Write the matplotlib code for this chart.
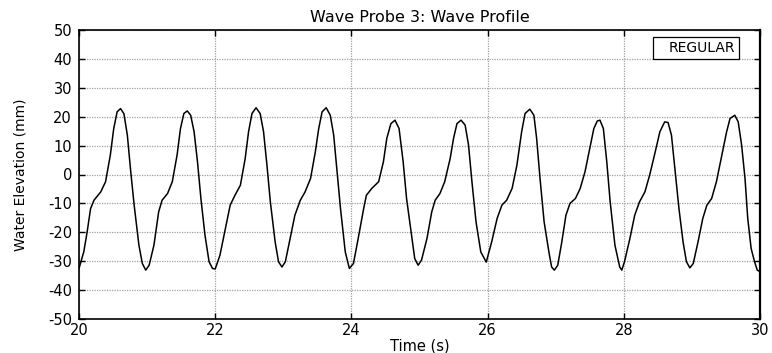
import matplotlib
matplotlib.use("Agg")
import matplotlib.pyplot as plt
from matplotlib.lines import Line2D

# ---- data ----
time_s = [
    20.00, 20.07, 20.12, 20.17, 20.22, 20.32, 20.39, 20.46, 20.51, 20.56, 20.61, 20.66, 20.71, 20.76, 20.81, 20.88, 20.93, 20.98,
    21.03, 21.10, 21.17, 21.22, 21.30, 21.37, 21.44, 21.49, 21.54, 21.59, 21.64, 21.69, 21.74, 21.79, 21.85, 21.91, 21.96,
    22.00, 22.07, 22.15, 22.22, 22.29, 22.37, 22.44, 22.49, 22.54, 22.60, 22.66, 22.71, 22.76, 22.81, 22.88, 22.93, 22.98,
    23.03, 23.10, 23.17, 23.25, 23.32, 23.40, 23.47, 23.52, 23.57, 23.63, 23.69, 23.74, 23.79, 23.84, 23.91, 23.97,
    24.03, 24.10, 24.18, 24.22, 24.30, 24.40, 24.47, 24.52, 24.58, 24.64, 24.70, 24.76, 24.81, 24.89, 24.93, 24.98,
    25.03, 25.11, 25.18, 25.23, 25.30, 25.37, 25.45, 25.50, 25.55, 25.61, 25.67, 25.72, 25.77, 25.83, 25.90, 25.98,
    26.06, 26.14, 26.21, 26.28, 26.36, 26.43, 26.50, 26.55, 26.62, 26.68, 26.72, 26.77, 26.83, 26.90, 26.94, 26.98,
    27.03, 27.09, 27.15, 27.21, 27.29, 27.36, 27.43, 27.50, 27.56, 27.61, 27.65, 27.70, 27.75, 27.80, 27.87, 27.94, 27.97,
    28.01, 28.09, 28.16, 28.23, 28.31, 28.38, 28.45, 28.53, 28.60, 28.65, 28.70, 28.75, 28.81, 28.87, 28.92, 28.97,
    29.02, 29.09, 29.16, 29.22, 29.29, 29.36, 29.43, 29.51, 29.56, 29.63, 29.68, 29.73, 29.78, 29.82, 29.87, 29.92, 29.96, 30.00,
]
elevation_mm = [
    -32.5, -26.8, -19.8, -11.8, -8.9, -6.0, -2.5, 6.7, 15.9, 21.7, 22.8, 21.0, 13.6, 0.9, -10.6, -24.5, -30.8, -33.1,
    -31.4, -24.5, -12.9, -8.9, -6.6, -2.5, 6.7, 15.9, 21.1, 22.0, 20.5, 14.8, 4.4, -8.3, -21.0, -30.2, -32.5,
    -32.7, -27.9, -18.7, -10.6, -7.2, -3.7, 5.5, 14.8, 21.1, 23.1, 21.1, 14.8, 3.2, -9.5, -23.3, -30.2, -32.0,
    -30.2, -22.1, -14.1, -8.9, -6.0, -1.4, 7.8, 15.9, 21.7, 23.1, 20.5, 13.6, 0.9, -11.8, -26.8, -32.5,
    -30.8, -22.1, -11.8, -7.2, -4.8, -2.5, 4.4, 12.5, 17.6, 18.8, 15.9, 4.4, -8.3, -22.1, -29.1, -31.4,
    -29.6, -22.1, -12.9, -8.9, -6.6, -2.5, 5.5, 12.5, 17.6, 18.8, 17.1, 10.2, -2.5, -16.4, -26.8, -30.3,
    -23.3, -15.2, -10.6, -8.9, -4.8, 3.2, 14.8, 21.1, 22.6, 20.5, 12.5, -1.4, -16.4, -26.8, -32.0, -33.1,
    -31.4, -23.3, -14.1, -10.0, -8.3, -4.8, 0.9, 9.0, 15.9, 18.5, 18.8, 15.9, 4.4, -9.5, -24.5, -32.0, -33.1,
    -30.2, -22.1, -14.1, -9.5, -6.0, -0.2, 6.7, 14.8, 18.2, 18.0, 13.6, 2.1, -11.8, -23.3, -30.2, -32.3,
    -30.8, -23.3, -15.2, -10.6, -8.3, -2.5, 5.5, 14.8, 19.4, 20.5, 18.2, 10.2, -1.4, -15.2, -25.6, -30.2, -33.1, -33.6,
]
x_ticks = [20, 22, 24, 26, 28, 30]
y_ticks = [-50, -40, -30, -20, -10, 0, 10, 20, 30, 40, 50]
series_label = "REGULAR"
title = "Wave Probe 3: Wave Profile"
x_label = "Time (s)"
y_label = "Water Elevation (mm)"

plt.rcParams["font.family"] = ["DejaVu Sans"]

fig = plt.figure(figsize=(7.72, 3.53), dpi=100)
ax = fig.add_axes([79 / 772, 1 - 319 / 353, (760 - 79) / 772, (319 - 30) / 353])

ax.plot(time_s, elevation_mm, color="black", lw=1.1, label=series_label)

ax.set_xlim(20, 30)
ax.set_ylim(-50, 50)
ax.set_xticks(x_ticks)
ax.set_yticks(y_ticks)
ax.set_xticklabels([str(v) for v in x_ticks])
ax.set_yticklabels([str(v) for v in y_ticks])

ax.grid(True, color="#a0a0a0", linestyle=(0, (1, 1)), lw=0.9)
ax.set_axisbelow(True)

ax.tick_params(direction="in", length=4, width=1, top=True, right=True,
               labelsize=10.5, colors="black")
ax.tick_params(axis="x", pad=3)
ax.tick_params(axis="y", pad=5)

for s in ax.spines.values():
    s.set_linewidth(1.2)
    s.set_color("black")
ax.spines["right"].set_linewidth(1.6)

ax.set_title(title, fontsize=11.5, pad=6)
ax.set_xlabel(x_label, fontsize=10.5)
ax.xaxis.set_label_coords(0.5, -0.066)
ax.set_ylabel(y_label, fontsize=10)
ax.yaxis.set_label_coords(-0.075, 0.5)

handle = Line2D([], [], color="none")
leg = ax.legend([handle], [series_label], loc="upper right",
                bbox_to_anchor=((739 - 79) / 681, (319 - 37) / 289),
                borderaxespad=0, fontsize=10, handlelength=0.8,
                handletextpad=0.0, borderpad=0.3, fancybox=False,
                framealpha=1, edgecolor="black")
leg.get_frame().set_linewidth(0.9)

fig.savefig("out.png", dpi=100)
